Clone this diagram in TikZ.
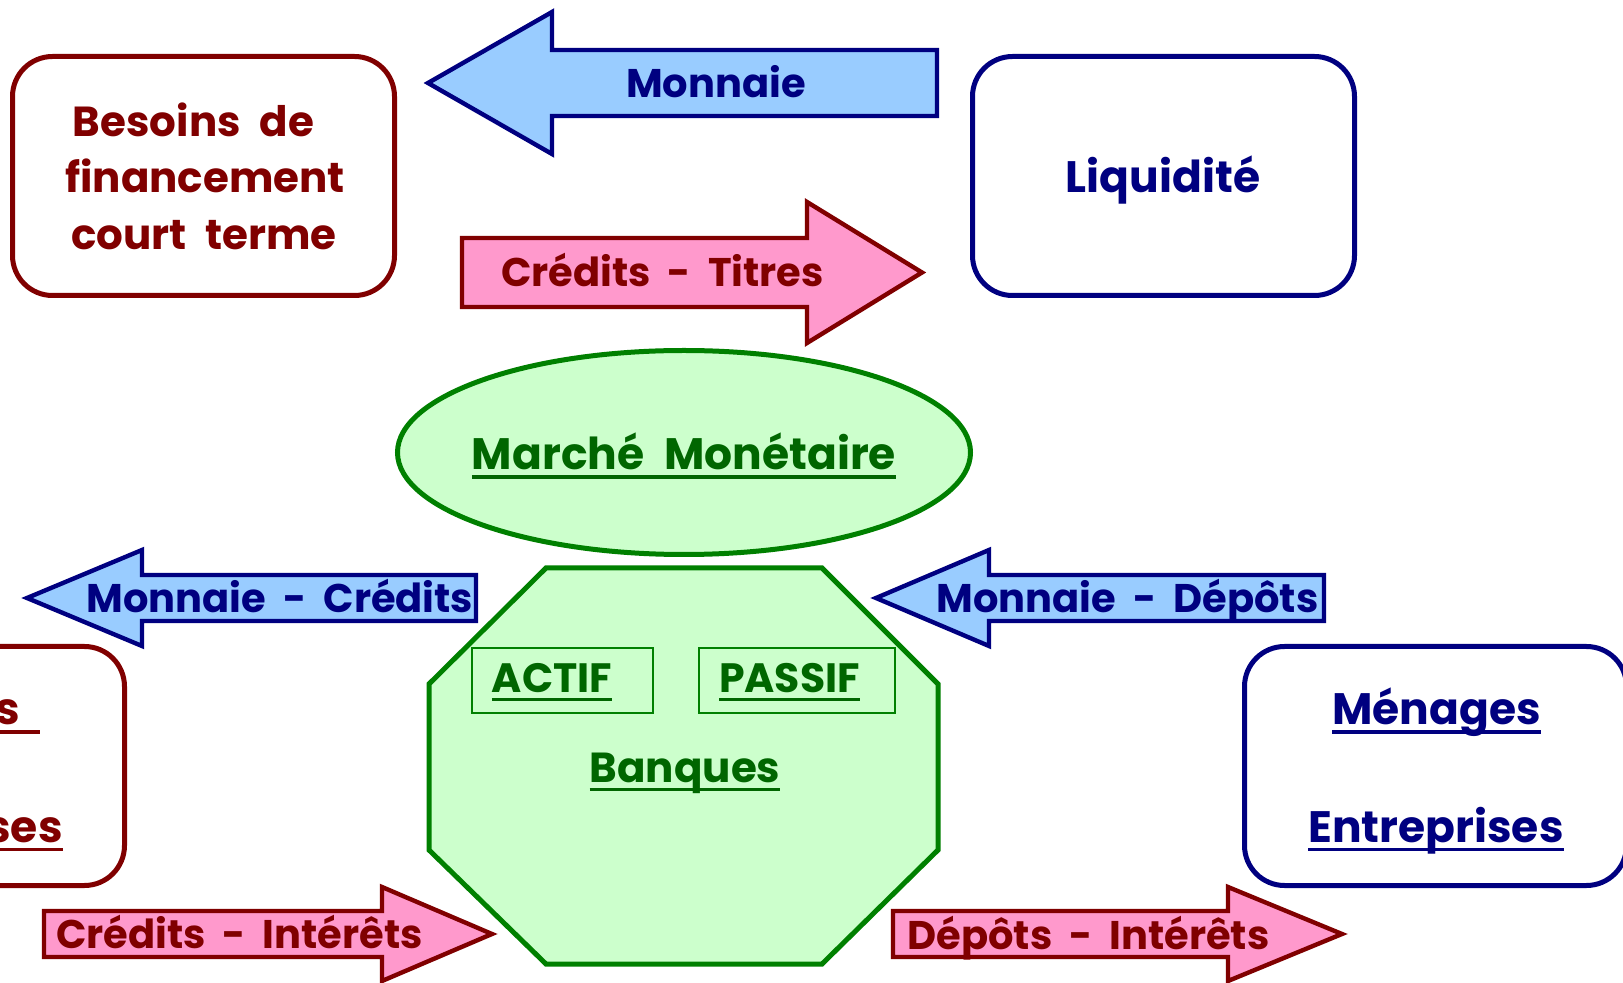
\documentclass[tikz,border=0pt]{standalone}
\usepackage{fontspec}
\setmainfont{Poppins}
\usetikzlibrary{shapes.geometric}
\definecolor{dred}{HTML}{800000}
\definecolor{navy}{HTML}{000080}
\definecolor{grn}{HTML}{008000}
\definecolor{dgrn}{HTML}{006600}
\definecolor{pinkf}{HTML}{FF99CC}
\definecolor{bluef}{HTML}{99CCFF}
\definecolor{grnf}{HTML}{CCFFCC}
\newcommand\ulx[1]{\leavevmode\setbox0\hbox{#1}\rlap{\rule[-0.2em]{\wd0}{0.075em}}\box0}
\newcommand\wsp{\hspace{0.45em}}
\begin{document}
\begin{tikzpicture}[x=0.5pt,y=-0.5pt,
  rbox/.style={draw, line width=2.5pt, rounded corners=20pt, minimum width=191pt, minimum height=119.5pt, inner sep=0pt},
  barrow/.style={draw=navy, fill=bluef, line width=2.2pt, line join=miter},
  parrow/.style={draw=dred, fill=pinkf, line width=2.2pt, line join=miter},
  lbl/.style={anchor=base, inner sep=0pt, font=\bfseries\fontsize{20}{20}\selectfont},
  big/.style={anchor=base, inner sep=0pt, font=\bfseries\fontsize{22}{22}\selectfont},
  mid/.style={anchor=base, inner sep=0pt, font=\bfseries\fontsize{21}{21}\selectfont},
  small/.style={anchor=base, inner sep=0pt, font=\bfseries\fontsize{20.5}{20.5}\selectfont}]
\useasboundingbox (0,0) rectangle (1623,983);
\clip (0,0) rectangle (1623,983);

% boxes
\node[rbox, draw=dred] (besoins) at (203.5,176) {};
\node[rbox, draw=navy] (liquidite) at (1163.5,176) {};
\node[rbox, draw=dred] (agentsL) at (-66.5,766) {};
\node[rbox, draw=navy] (agentsR) at (1435.5,766) {};

\node[mid, text=dred] (b1) at (193.5,137) {Besoins\wsp de};
\node[mid, text=dred] (b2) at (205,193) {financement};
\node[mid, text=dred] (b3) at (204,250) {court\wsp terme};
\node[big, text=navy] (liq) at (1163,193) {Liquidité};

\node[big, text=dred, anchor=base east] (menL) at (40,725) {\ulx{Ménages\wsp}};
\node[big, text=dred, anchor=base east] (entL) at (63,842) {\ulx{Entreprises}};
\node[big, text=navy] (menR) at (1436.5,725) {\ulx{Ménages}};
\node[big, text=navy] (entR) at (1436,842) {\ulx{Entreprises}};

% marché monétaire
\node[ellipse, draw=grn, fill=grnf, line width=2.5pt, minimum width=286.5pt, minimum height=102pt, inner sep=0pt] (marche) at (684,452.5) {};
\node[big, text=dgrn] (marchet) at (684,470) {\ulx{Marché\wsp Monétaire}};

% banques
\draw[draw=grn, fill=grnf, line width=2.5pt] (546,568) -- (822,568) -- (938,684) -- (938,850) -- (822,964) -- (546,964) -- (429,850) -- (429,684) -- cycle;
\coordinate (banques) at (683.5,766);
\node[draw=grn, line width=1pt, minimum width=90.5pt, minimum height=32.5pt, inner sep=0pt] (actif) at (562.5,680.5) {};
\node[draw=grn, line width=1pt, minimum width=98pt, minimum height=32.5pt, inner sep=0pt] (passif) at (797,680.5) {};
\node[small, text=dgrn] (actift) at (552,693) {\ulx{ACTIF}};
\node[small, text=dgrn] (passift) at (789.5,693) {\ulx{PASSIF}};
\node[mid, text=dgrn] (banquest) at (685,783) {\ulx{Banques}};

% block arrows
\draw[barrow] (428,83) -- (552,12) -- (552,50) -- (937,50) -- (937,116) -- (552,116) -- (552,154) -- cycle;
\node[lbl, text=navy] (a1) at (716,98) {Monnaie};

\draw[parrow] (462,238) -- (807,238) -- (807,202) -- (922,272.5) -- (807,343) -- (807,307) -- (462,307) -- cycle;
\node[lbl, text=dred] (a2) at (662.5,287) {Crédits~~-~~Titres};

\draw[barrow] (27,598) -- (142,550) -- (142,575) -- (476,575) -- (476,621) -- (142,621) -- (142,646) -- cycle;
\node[lbl, text=navy] (a3) at (280,613) {Monnaie~~-~~Crédits};

\draw[barrow] (876,598) -- (989,550) -- (989,575) -- (1324,575) -- (1324,621) -- (989,621) -- (989,646) -- cycle;
\node[lbl, text=navy] (a4) at (1127.5,613) {Monnaie~~-~~Dépôts};

\draw[parrow] (44,911) -- (382,911) -- (382,887) -- (492,934) -- (382,981) -- (382,957) -- (44,957) -- cycle;
\node[lbl, text=dred] (a5) at (239.5,948) {Crédits~~-~~Intérêts};

\draw[parrow] (893,911) -- (1228,911) -- (1228,887) -- (1342,934) -- (1228,981) -- (1228,957) -- (893,957) -- cycle;
\node[lbl, text=dred] (a6) at (1088.5,949) {Dépôts~~-~~Intérêts};
\end{tikzpicture}
\end{document}
